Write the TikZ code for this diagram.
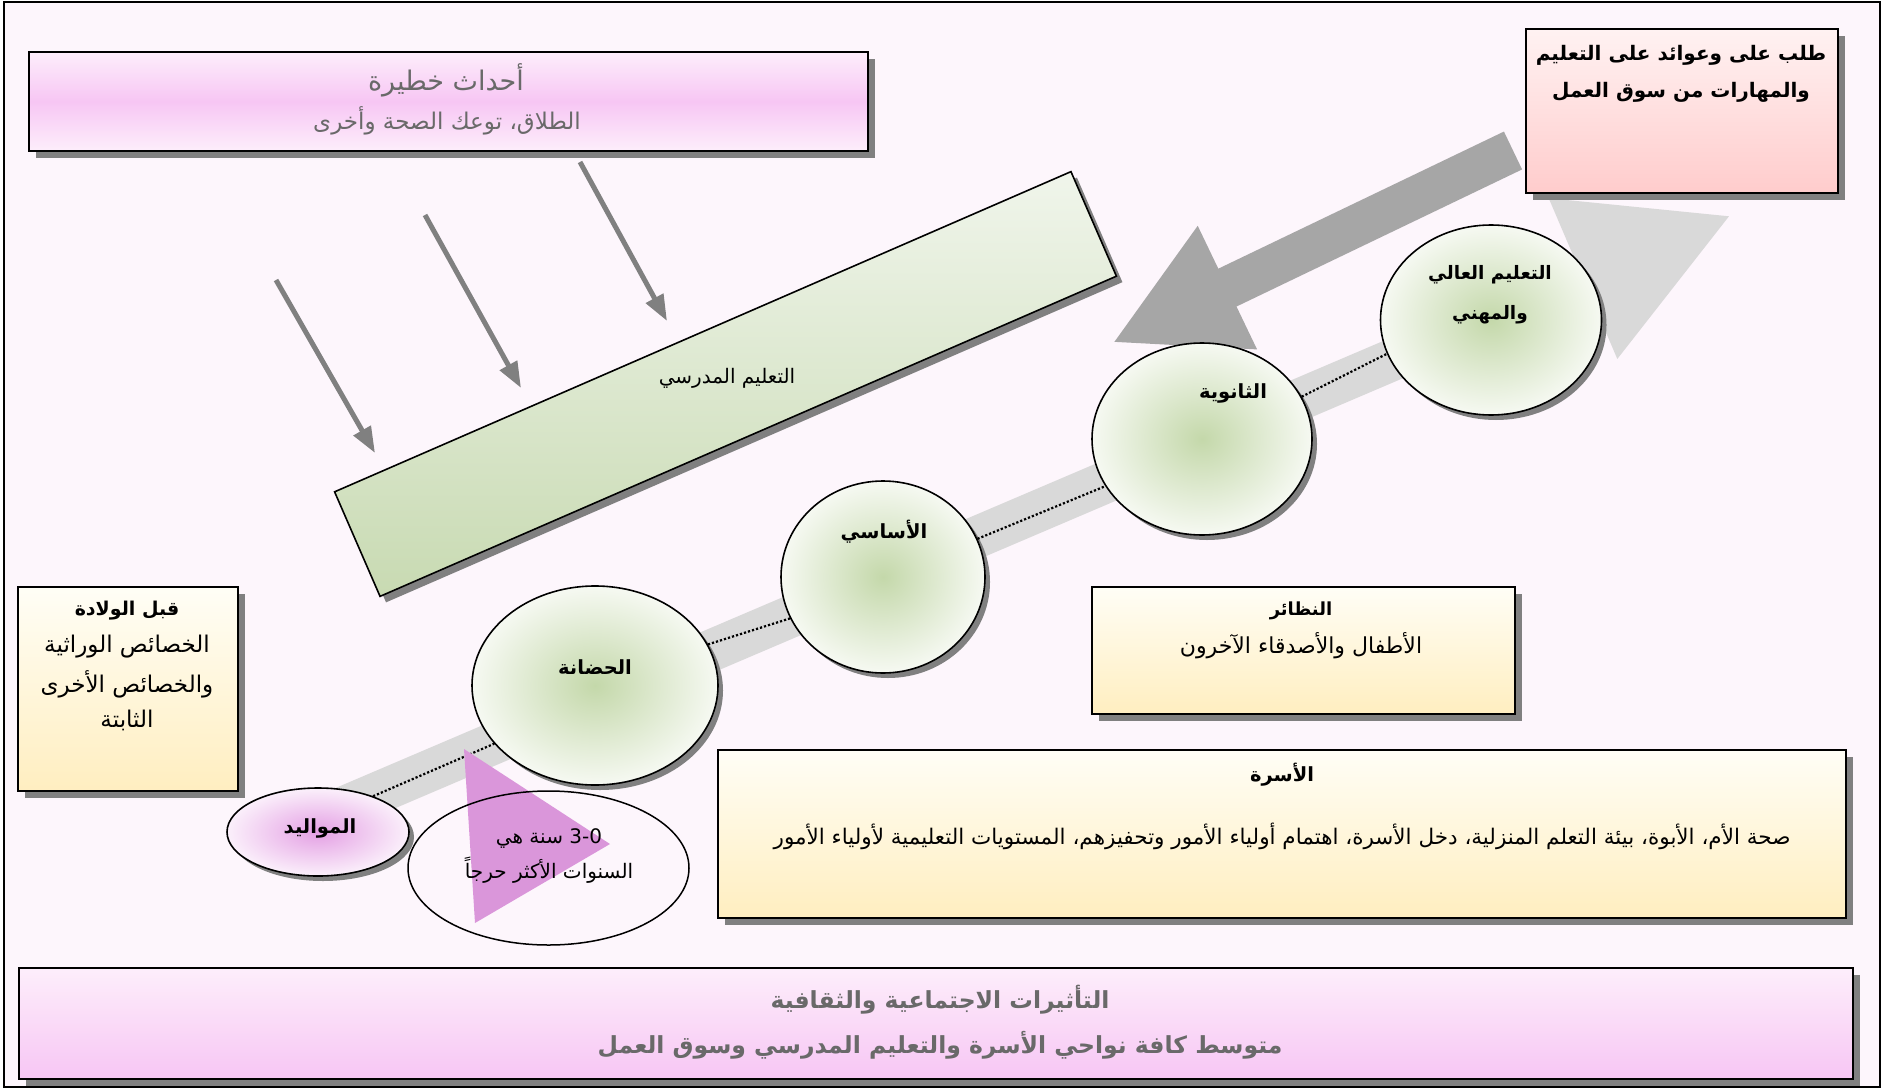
\documentclass[tikz,border=0pt]{standalone}
\usepackage{fontspec}
\setmainfont{DejaVu Sans}
\newfontfamily\arfont[Script=Arabic]{DejaVu Sans}
\TeXXeTstate=1
\usetikzlibrary{arrows.meta,shapes.geometric,shadows}
\definecolor{bgpink}{RGB}{253,246,252}
\definecolor{shgray}{RGB}{128,128,128}
\definecolor{pkA}{RGB}{253,238,251}
\definecolor{pkB}{RGB}{247,198,244}
\definecolor{rdA}{RGB}{255,242,242}
\definecolor{rdB}{RGB}{255,204,204}
\definecolor{crA}{RGB}{255,254,246}
\definecolor{crB}{RGB}{255,238,192}
\definecolor{grA}{RGB}{240,245,235}
\definecolor{grB}{RGB}{200,218,178}
\definecolor{cgIn}{RGB}{196,216,170}
\definecolor{cgOut}{RGB}{246,249,242}
\definecolor{mwIn}{RGB}{228,160,228}
\definecolor{mwOut}{RGB}{251,240,251}
\definecolor{tripink}{RGB}{218,150,218}
\definecolor{lgray}{RGB}{217,217,217}
\definecolor{dgray}{RGB}{166,166,166}
\definecolor{agray}{RGB}{128,128,128}
\definecolor{txgray}{RGB}{105,105,105}
\newcommand{\artext}[1]{\beginR #1\endR}
\begin{document}
\begin{tikzpicture}[x=1pt,y=-1pt,
  shbox/.style={draw=black, line width=1.8pt, inner sep=0pt, anchor=north west,
    drop shadow={shadow xshift=7pt,shadow yshift=-7pt,fill=shgray,opacity=1}},
  pinkbox/.style={shbox, top color=pkA, bottom color=pkA, middle color=pkB},
  redbox/.style={shbox, top color=rdA, bottom color=rdB},
  creambox/.style={shbox, top color=crA, bottom color=crB},
  greenbox/.style={draw=black, line width=1.6pt, inner sep=0pt, top color=grA, bottom color=grB,
    drop shadow={shadow xshift=6pt,shadow yshift=-6pt,fill=shgray,opacity=1}},
  circ/.style={ellipse, draw=black, line width=1.6pt, inner sep=0pt, inner color=cgIn, outer color=cgOut,
    drop shadow={shadow xshift=5pt,shadow yshift=-5pt,fill=shgray,opacity=1}},
  mwcirc/.style={circ, inner color=mwIn, outer color=mwOut},
  openell/.style={ellipse, draw=black, line width=1.5pt, inner sep=0pt},
  dotline/.style={dotted, line width=2.2pt, draw=black},
  garrow/.style={draw=agray, line width=5pt, -{Triangle[length=26pt,width=19pt]}},
  ar/.style={inner sep=0pt, anchor=center, font=\fontsize{#1}{#1}\selectfont\arfont},
  arb/.style={inner sep=0pt, anchor=center, font=\fontsize{#1}{#1}\selectfont\arfont\bfseries}]
\useasboundingbox (0,0) rectangle (1886,1089);
\fill[white] (0,0) rectangle (1886,1089);
\draw[line width=1.5pt, fill=bgpink] (4,2) rectangle (1880,1087);

% light gray band with head
\coordinate (bandS) at (300,826);
\coordinate (bandT) at (1732,215);
\draw[line width=42pt, draw=lgray, -{Triangle[length=162pt,width=162pt]}] (bandS) -- (bandT);

% dark gray arrow from labour market
\coordinate (darS) at (1513,150.5);
\coordinate (darT) at (1112,343);
\draw[line width=42pt, draw=dgray, -{Triangle[length=128pt,width=127pt]}] (darS) -- (darT);

% schooling box
\node[greenbox, minimum width=803pt, minimum height=114pt, rotate=23.5, anchor=center] (school) at (725.5,384) {};
\node[ar=20] (schoolT) at (727,378) {\artext{التعليم المدرسي}};

% gray arrows
\coordinate (g1s) at (276,280); \coordinate (g1e) at (375,453);
\coordinate (g2s) at (425,215); \coordinate (g2e) at (521,388);
\coordinate (g3s) at (580,162); \coordinate (g3e) at (667,321);
\draw[garrow] (g1s) -- (g1e);
\draw[garrow] (g2s) -- (g2e);
\draw[garrow] (g3s) -- (g3e);

% top boxes
\node[pinkbox, minimum width=839pt, minimum height=99pt] (events) at (28,51) {};
\node[ar=27, text=txgray] (eventsT1) at (446,80) {\artext{أحداث خطيرة}};
\node[ar=23, text=txgray] (eventsT2) at (447,121) {\artext{الطلاق، توعك الصحة وأخرى}};

\node[redbox, minimum width=312pt, minimum height=164pt] (market) at (1525,28) {};
\node[arb=20] (marketT1) at (1681,55) {\artext{طلب على وعوائد على التعليم}};
\node[arb=20] (marketT2) at (1681,92) {\artext{والمهارات من سوق العمل}};

% stage circles
\node[mwcirc, minimum width=182pt, minimum height=88pt] (mawalid) at (318,832) {};
\node[circ, minimum width=246pt, minimum height=199pt] (hadana) at (595,685.5) {};
\node[circ, minimum width=204pt, minimum height=192pt] (asasi) at (883,577) {};
\node[circ, minimum width=220pt, minimum height=192pt] (thanawi) at (1202,439) {};
\node[circ, minimum width=221pt, minimum height=190pt] (aali) at (1491,320) {};

\draw[dotline] (mawalid.33) -- (hadana.210);
\draw[dotline] (hadana.20) -- (asasi.204);
\draw[dotline] (asasi.22) -- (thanawi.206);
\draw[dotline] (thanawi.23) -- (aali.198);

\node[arb=19.5] (mawalidT) at (320,828) {\artext{المواليد}};
\node[arb=19.5] (hadanaT) at (595,667) {\artext{الحضانة}};
\node[arb=19.5] (asasiT) at (884,532) {\artext{الأساسي}};
\node[arb=19.5] (thanawiT) at (1233,393) {\artext{الثانوية}};
\node[arb=18.5] (aaliT1) at (1490,275) {\artext{التعليم العالي}};
\node[arb=18.5] (aaliT2) at (1490,315) {\artext{والمهني}};

% critical years
\fill[tripink] (464,749) -- (610,844) -- (475,923) -- cycle;
\node[openell, minimum width=281pt, minimum height=154pt] (crit) at (548.5,868) {};
\node[ar=20] (critT1) at (549,839) {\artext{\beginL 3-0\endL{} سنة هي}};
\node[ar=20] (critT2) at (549,870) {\artext{السنوات الأكثر حرجاً}};

% prenatal
\node[creambox, minimum width=220pt, minimum height=204pt] (prenatal) at (17,586) {};
\node[arb=19] (prenatalT1) at (127,611) {\artext{قبل الولادة}};
\node[ar=23] (prenatalT2) at (127,647) {\artext{الخصائص الوراثية}};
\node[ar=23] (prenatalT3) at (127,684) {\artext{والخصائص الأخرى}};
\node[ar=23] (prenatalT4) at (127,720) {\artext{الثابتة}};

% peers
\node[creambox, minimum width=423pt, minimum height=127pt] (peers) at (1091,586) {};
\node[arb=18] (peersT1) at (1301,611) {\artext{النظائر}};
\node[ar=22] (peersT2) at (1301,646) {\artext{الأطفال والأصدقاء الآخرون}};

% family
\node[creambox, minimum width=1128pt, minimum height=168pt] (family) at (717,749) {};
\node[arb=19.5] (familyT1) at (1282,775) {\artext{الأسرة}};
\node[ar=21.5] (familyT2) at (1282,836) {\artext{صحة الأم، الأبوة، بيئة التعلم المنزلية، دخل الأسرة، اهتمام أولياء الأمور وتحفيزهم، المستويات التعليمية لأولياء الأمور}};

% social and cultural influences
\node[shbox, top color=pkA, bottom color=pkB, minimum width=1834pt, minimum height=111pt] (social) at (18,967) {};
\node[arb=23.5, text=txgray] (socialT1) at (940,1000) {\artext{التأثيرات الاجتماعية والثقافية}};
\node[arb=23.5, text=txgray] (socialT2) at (940,1045) {\artext{متوسط كافة نواحي الأسرة والتعليم المدرسي وسوق العمل}};
\end{tikzpicture}
\end{document}
